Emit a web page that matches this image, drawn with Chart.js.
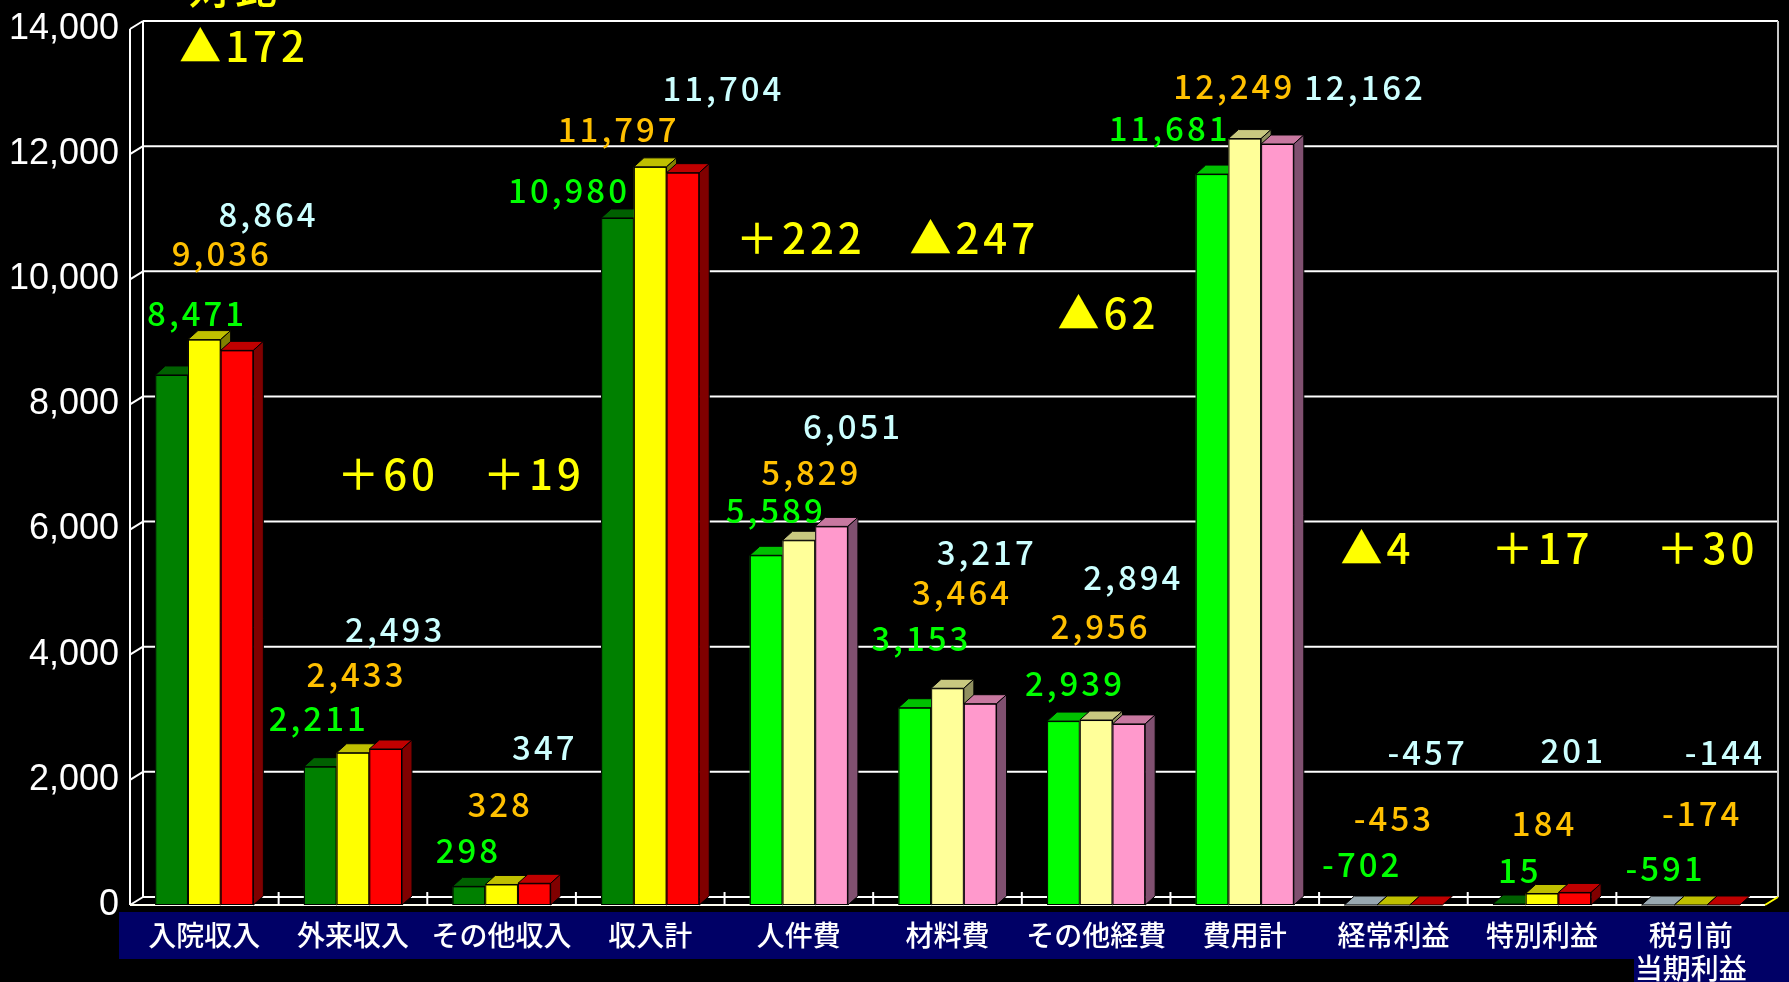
<!DOCTYPE html>
<html>
<head>
<meta charset="utf-8">
<style>
html,body{margin:0;padding:0;background:#000;}
#wrap{width:1789px;height:982px;position:relative;}
</style>
<script src="https://cdn.jsdelivr.net/npm/chart.js@4.4.1/dist/chart.umd.min.js"></script>
</head>
<body>
<div id="wrap"><canvas id="c" width="1789" height="982"></canvas></div>
<script>
// ---------- data ----------
const categories = ['入院収入','外来収入','その他収入','収入計','人件費','材料費','その他経費','費用計','経常利益','特別利益',['税引前','当期利益']];
const seriesA = [8471, 2211, 298, 10980, 5589, 3153, 2939, 11681, -702, 15, -591];
const seriesB = [9036, 2433, 328, 11797, 5829, 3464, 2956, 12249, -453, 184, -174];
const seriesC = [8864, 2493, 347, 11704, 6051, 3217, 2894, 12162, -457, 201, -144];
const yTicks = [0, 2000, 4000, 6000, 8000, 10000, 12000, 14000];
const diffTitle = '対比';

// ---------- layout / style (not data) ----------
// text anchors for the difference notes: [category position, value position]
const diffAnchors = [[0.254,13731],[1.223,6889],[2.205,6889],null,[4.0,10658],[5.167,10658],[6.07,9455],null,[7.88,5701],[8.99,5701],[10.1,5701]];
// value-label nudges (px) from each bar's top centre, per series
const nudgeA = [[24,-62],[-3,-48],[-2,-36],[-50,-28],[8,-45],[5,-69],[10,-38],[-44,-46],[0,-41],[9,-34],[6,-37]];
const nudgeB = [[16,-86],[2,-78],[-3,-80],[-33,-37],[11,-68],[13,-96],[3,-94],[-12,-52],[-1,-87],[1,-70],[10,-92]];
const nudgeC = [[30,-136],[8,-120],[9,-136],[39,-84],[20,-100],[5,-151],[3,-146],[86,-57],[0,-153],[-3,-142],[0,-153]];
const nudges = [nudgeA, nudgeB, nudgeC];

const WALL = {dx:13, dy:8};
const BAR = {dx:10, dy:9};
const FONT_CJK = '"Noto Sans CJK JP", "Noto Sans", sans-serif';

function group(i){ return i < 4 ? 0 : (i < 8 ? 1 : 2); }
const frontCols = [
  ['#008000','#00FF00','#008000'],
  ['#FFFF00','#FFFF99','#FFFF00'],
  ['#FF0000','#FF99CC','#FF0000']
];
const topCols = [
  ['#006000','#00C000','#006000'],
  ['#C0C000','#C8C880','#C0C000'],
  ['#C00000','#C878A0','#C00000']
];
const sideCols = [
  ['#004000','#008000','#004000'],
  ['#808000','#909060','#808000'],
  ['#800000','#805070','#800000']
];
const negTopCols = ['#98A8B0','#C0C000','#C00000'];
const labelCols = ['#00FF00','#FFC000','#CCFFFF'];

const allSeries = [seriesA, seriesB, seriesC];
function colorsFor(d){ return categories.map((_, i) => frontCols[d][group(i)]); }

const fmt = v => v.toLocaleString('en-US');

const threeD = {
  id: 'threeD',
  beforeDatasetsDraw(chart){
    const {ctx, chartArea:a, scales:{x, y}} = chart;
    ctx.save();
    ctx.lineWidth = 2;
    ctx.strokeStyle = '#FFFFFF';
    yTicks.forEach(v => {
      const yf = y.getPixelForValue(v), yb = yf - WALL.dy;
      ctx.beginPath(); ctx.moveTo(a.left + WALL.dx, yb); ctx.lineTo(a.right + WALL.dx, yb); ctx.stroke();
      ctx.beginPath(); ctx.moveTo(a.left, yf); ctx.lineTo(a.left + WALL.dx, yb); ctx.stroke();
    });
    ctx.beginPath(); ctx.moveTo(a.left, a.bottom); ctx.lineTo(a.left, a.top); ctx.stroke();
    ctx.beginPath(); ctx.moveTo(a.left + WALL.dx, a.bottom - WALL.dy); ctx.lineTo(a.left + WALL.dx, a.top - WALL.dy); ctx.stroke();
    ctx.strokeStyle = '#C8C8C8';
    ctx.beginPath(); ctx.moveTo(a.right + WALL.dx, a.top - WALL.dy); ctx.lineTo(a.right + WALL.dx, a.bottom - WALL.dy); ctx.stroke();
    ctx.strokeStyle = '#FFFFF0';
    ctx.beginPath(); ctx.moveTo(a.left, a.bottom); ctx.lineTo(a.right, a.bottom); ctx.stroke();
    ctx.strokeStyle = '#FFFFFF';
    for (let i = 1; i < categories.length; i++) {
      const xb = x.getPixelForValue(i - 0.5);
      ctx.beginPath(); ctx.moveTo(xb, a.bottom - WALL.dy - 5); ctx.lineTo(xb, a.bottom); ctx.stroke();
    }
    ctx.strokeStyle = '#FFFF00';
    ctx.beginPath(); ctx.moveTo(a.right, a.bottom); ctx.lineTo(a.right + WALL.dx, a.bottom - WALL.dy); ctx.stroke();
    ctx.restore();
  },
  afterDatasetsDraw(chart){
    const {ctx} = chart;
    ctx.save();
    ctx.lineWidth = 1;
    ctx.strokeStyle = '#000000';
    for (let i = 0; i < categories.length; i++) {
      for (let d = 0; d < 3; d++) {
        const el = chart.getDatasetMeta(d).data[i];
        const p = el.getProps(['x','y','base','width'], true);
        const L = p.x - p.width/2, R = p.x + p.width/2;
        const base = p.base;
        const top = Math.min(p.y, base);
        const neg = allSeries[d][i] < 0;
        const g = group(i);
        if (base - top > 0) {
          ctx.fillStyle = frontCols[d][g];
          ctx.fillRect(L, top, R - L, base - top);
          ctx.strokeRect(L + 0.5, top + 0.5, R - L - 1, base - top - 1);
        }
        ctx.beginPath();
        ctx.moveTo(L, top); ctx.lineTo(R, top); ctx.lineTo(R + BAR.dx, top - BAR.dy); ctx.lineTo(L + BAR.dx, top - BAR.dy); ctx.closePath();
        ctx.fillStyle = neg ? negTopCols[d] : topCols[d][g];
        ctx.fill(); ctx.stroke();
        if (base - top > 0) {
          ctx.beginPath();
          ctx.moveTo(R, top); ctx.lineTo(R + BAR.dx, top - BAR.dy); ctx.lineTo(R + BAR.dx, base - BAR.dy); ctx.lineTo(R, base); ctx.closePath();
          ctx.fillStyle = sideCols[d][g];
          ctx.fill(); ctx.stroke();
        }
      }
    }
    ctx.restore();
  },
  afterDraw(chart){
    const {ctx, chartArea:a, scales:{x, y}} = chart;
    ctx.save();
    ctx.font = '500 33px ' + FONT_CJK;
    ctx.textAlign = 'center';
    ctx.textBaseline = 'middle';
    ctx.letterSpacing = '3px';
    for (let d = 0; d < 3; d++) {
      const meta = chart.getDatasetMeta(d);
      allSeries[d].forEach((v, i) => {
        const p = meta.data[i].getProps(['x','y','base'], true);
        const top = Math.min(p.y, p.base);
        const n = nudges[d][i];
        ctx.fillStyle = labelCols[d];
        ctx.fillText(fmt(v), p.x + n[0] + 1.5, top + n[1]);
      });
    }
    ctx.font = '500 42px ' + FONT_CJK;
    ctx.letterSpacing = '4px';
    ctx.fillStyle = '#FFFF00';
    diffAnchors.forEach((anc, i) => {
      if (!anc) return;
      const diff = seriesC[i] - seriesB[i];
      const txt = diff < 0 ? '▲' + Math.abs(diff) : '＋' + diff;
      ctx.fillText(txt, x.getPixelForValue(anc[0]) + 2, y.getPixelForValue(anc[1]));
    });
    ctx.textBaseline = 'alphabetic';
    ctx.fillText(diffTitle, x.getPixelForValue(0.207), a.top - 25);
    ctx.restore();
  }
};

const bandPlugin = {
  id: 'band',
  beforeDraw(chart){
    const {ctx, chartArea:a} = chart;
    ctx.save();
    ctx.fillStyle = '#000000';
    ctx.fillRect(0, 0, chart.width, chart.height);
    ctx.fillStyle = '#000066';
    ctx.fillRect(119, a.bottom + 7, chart.width - 119, 47);
    ctx.fillRect(1634, a.bottom + 7, chart.width - 1634, chart.height - a.bottom - 7);
    ctx.restore();
  }
};

new Chart(document.getElementById('c'), {
  type: 'bar',
  data: {
    labels: categories,
    datasets: allSeries.map((s, d) => ({
      data: s,
      backgroundColor: colorsFor(d),
      borderColor: '#000000',
      borderWidth: 1,
      categoryPercentage: 0.66,
      barPercentage: 1.0
    }))
  },
  options: {
    responsive: false,
    animation: false,
    devicePixelRatio: 1,
    layout: { padding: { top: 21, right: 24, left: 0, bottom: 0 } },
    plugins: { legend: { display: false }, tooltip: { enabled: false } },
    scales: {
      x: {
        grid: { display: false, drawTicks: false },
        border: { display: false },
        ticks: {
          color: '#FFFFFF',
          font: { family: FONT_CJK, size: 28, weight: '500', lineHeight: 1.18 },
          padding: 14,
          autoSkip: false,
          maxRotation: 0,
          minRotation: 0
        },
        afterFit(scale){ scale.height = 77; }
      },
      y: {
        min: 0, max: 14000,
        grid: { display: false, drawTicks: false },
        border: { display: false },
        ticks: {
          stepSize: 2000,
          color: '#FFFFFF',
          font: { family: '"Liberation Sans", Arial, sans-serif', size: 36, lineHeight: 1.0 },
          padding: 11,
          callback: v => fmt(v)
        },
        afterFit(scale){ scale.width = 130; }
      }
    }
  },
  plugins: [bandPlugin, threeD]
});
</script>
</body>
</html>
